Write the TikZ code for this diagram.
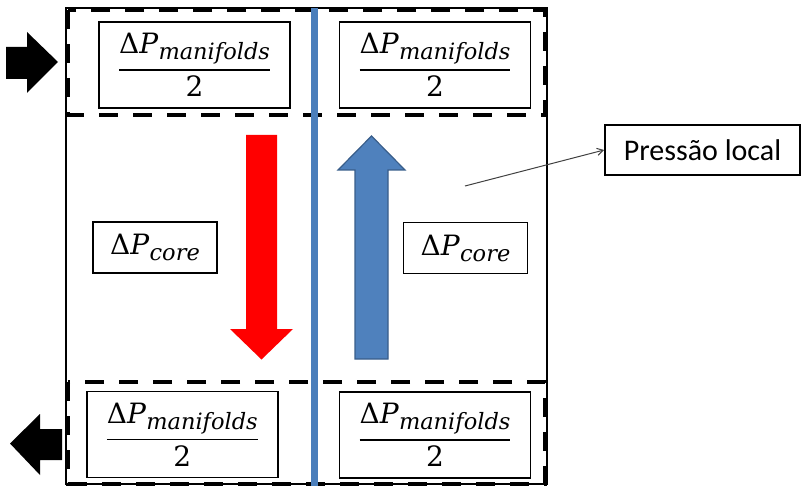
\documentclass[tikz,border=0pt]{standalone}
\usepackage{amsmath}
\usepackage{fontspec}
\setmainfont{Carlito}
\newfontfamily\formula{DejaVu Serif}
\newcommand{\dpsub}[1]{\mbox{\formula\fontsize{28}{32}\selectfont Δ\textit{P}\raisebox{-6pt}{\fontsize{22.5}{26}\selectfont\textit{#1}}}}
\newcommand{\dpfrac}{$\genfrac{}{}{1.6pt}{0}{\dpsub{manifolds}}{\mbox{\formula\fontsize{28}{32}\selectfont 2}}$}
\usetikzlibrary{arrows.meta,positioning}
\definecolor{fluxoblue}{HTML}{4F81BD}
\definecolor{fluxoborda}{HTML}{385D8A}
\definecolor{fluxored}{HTML}{FF0000}
\definecolor{linhablue}{HTML}{4A7EBB}
\tikzset{
  contorno/.style={black,line width=1.5pt},
  faixa/.style={black,line width=3.5pt,dash pattern=on 19pt off 15pt},
  divisoria/.style={linhablue,line width=7pt},
  caixa/.style={draw=black,line width=1.8pt,fill=white,inner sep=2pt,font=\fontsize{25}{30}\selectfont},
  caixamani/.style={caixa,minimum width=191pt,minimum height=86pt},
  caixacore/.style={caixa,minimum width=124pt,minimum height=51pt},
  ponteiro/.style={-{Straight Barb[angle=60:7pt]},black!75,line width=1pt}
}
\begin{document}
\begin{tikzpicture}[x=1pt,y=-1pt]
\useasboundingbox (0,0) rectangle (805,486);
\draw[contorno] (66,8) rectangle (547,484);
\draw[faixa] (68,10) rectangle (545,115);
\draw[faixa] (68,382) rectangle (545,484);
\draw[divisoria] (314,8)--(314,486);
\foreach \nome/\cx/\cy in {mantl/194.5/65,mantr/435/65,manbl/182.3/434.5,manbr/435/435}{
  \node[caixamani] (\nome) at (\cx,\cy) {\dpfrac};
}
\node[caixacore] (corel) at (155,247.5) {\dpsub{core}};
\node[caixacore] (corer) at (465.5,248) {\dpsub{core}};
\fill[fluxored] (246,135)--(277,135)--(277,329)--(293,329)--(261.5,359.5)--(230,329)--(246,329)--cycle;
\filldraw[fill=fluxoblue,draw=fluxoborda,line width=1.2pt] (355,359)--(355,170)--(338,170)--(371.5,136)--(405,170)--(388,170)--(388,359)--cycle;
\fill[black] (6,47)--(27,47)--(27,32)--(58,62)--(27,93)--(27,79)--(6,79)--cycle;
\fill[black] (62,429)--(40,429)--(40,414)--(10,443.5)--(40,475)--(40,460)--(62,460)--cycle;
\node[caixa,font=\fontsize{30}{36}\selectfont,minimum width=195pt,minimum height=50pt] (local) at (702.5,150) {Pressão local};
\coordinate (ponto) at (465,186);
\draw[ponteiro] (ponto)--(local.west);
\end{tikzpicture}
\end{document}
